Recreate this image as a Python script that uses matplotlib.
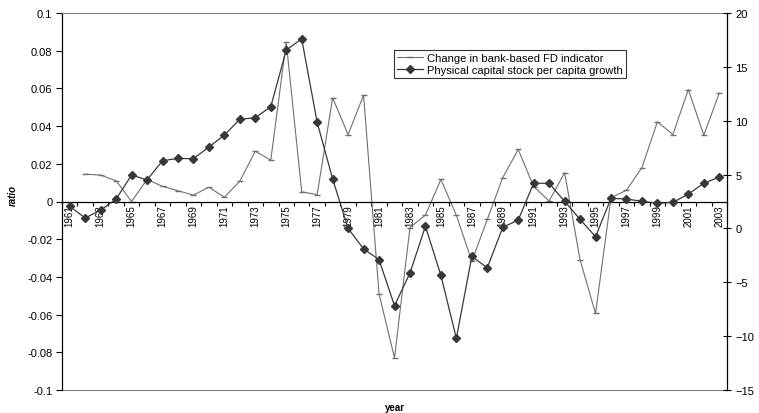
import numpy as np
import matplotlib
matplotlib.use("Agg")
from matplotlib import pyplot as plt

plt.rcParams['font.family'] = ['Liberation Sans', 'DejaVu Sans']

years = list(range(1961, 2004))

# change in bank-based FD indicator (left axis, ratio); no value for 1961
fd_change = [np.nan, 0.0145, 0.014, 0.011, 0.0, 0.0117, 0.008, 0.0057, 0.0034, 0.0076,
             0.0023, 0.0108, 0.0267, 0.0219, 0.0845, 0.0051, 0.0037, 0.055, 0.0355, 0.0564,
             -0.049, -0.083, -0.0138, -0.0072, 0.0117, -0.0073, -0.0317, -0.0095, 0.0127, 0.0276,
             0.0079, 0.0003, 0.0153, -0.031, -0.0594, 0.002, 0.006, 0.018, 0.0423, 0.0355,
             0.0594, 0.0352, 0.0575]

# physical capital stock per capita growth (right axis)
capital_growth = [2.05, 0.97, 1.7, 2.73, 4.96, 4.5, 6.29, 6.5, 6.47, 7.56,
                  8.67, 10.13, 10.28, 11.3, 16.56, 17.6, 9.85, 4.59, 0.0, -1.9,
                  -2.9, -7.17, -4.14, 0.2, -4.36, -10.2, -2.6, -3.65, 0.1, 0.78,
                  4.2, 4.19, 2.52, 0.84, -0.77, 2.8, 2.73, 2.52, 2.33, 2.42,
                  3.19, 4.19, 4.77]

x = np.arange(len(years))

fig = plt.figure(figsize=(7.59, 4.14), dpi=100)
ax = fig.add_axes([62/759, 23/414, (727-62)/759, (391-14)/414])
ax2 = ax.twinx()

l1, = ax.plot(x, fd_change, color='#707070', lw=0.8, marker='_', ms=4, mew=1.0,
              label='Change in bank-based FD indicator')
l2, = ax2.plot(x, capital_growth, color='#383838', lw=0.9, marker='D', ms=4.0,
               mfc='#383838', mec='#383838', label='Physical capital stock per capita growth')

ax.set_xlim(-0.5, len(years) - 0.5)
ax.set_ylim(-0.1, 0.1)
ax2.set_ylim(-15, 20)
ax.set_yticks(np.arange(-0.1, 0.1001, 0.02))
ax.set_yticklabels(['-0.1', '-0.08', '-0.06', '-0.04', '-0.02', '0',
                    '0.02', '0.04', '0.06', '0.08', '0.1'])
ax2.set_yticks(np.arange(-15, 21, 5))

# category axis crossing at zero of the primary axis
ax.spines['bottom'].set_position(('data', 0))
ax.spines['bottom'].set_color('black')
ax.spines['bottom'].set_linewidth(0.9)
ax.spines['top'].set_color('#808080')
ax.spines['top'].set_linewidth(0.8)
ax.spines['right'].set_visible(False)
ax.spines['left'].set_linewidth(0.9)
for s in ['top', 'bottom', 'left']:
    ax2.spines[s].set_visible(False)
ax2.spines['right'].set_linewidth(0.9)
ax.axhline(-0.1, color='#808080', lw=0.8, clip_on=False)

ax.set_xticks(x[::2])
ax.set_xticklabels([str(y) for y in years[::2]], rotation=90, fontsize=7)
ax.set_xticks(np.arange(-0.5, len(years), 1.0), minor=True)
ax.tick_params(axis='x', which='major', length=0, pad=2)
ax.tick_params(axis='x', which='minor', length=3, width=0.8, direction='out')
ax.tick_params(axis='y', labelsize=8, length=4, width=0.8, direction='out', pad=3)
ax2.tick_params(axis='y', labelsize=8, length=6, width=0.8, direction='inout', pad=3)

ax.set_ylabel('ratio', fontsize=7, fontweight='bold', style='italic')
ax.yaxis.set_label_coords(-0.066, 0.52)
fig.text(0.5 * (62 + 727) / 759, 6/414, 'year', ha='center', va='center',
         fontsize=7, fontweight='bold')

leg = fig.legend(handles=[l1, l2], loc='upper left',
                 bbox_to_anchor=(394/759, 1 - 51/414), fontsize=8,
                 frameon=True, fancybox=False, borderpad=0.3, labelspacing=0.12,
                 handlelength=2.3, handletextpad=0.35, borderaxespad=0)
leg.get_frame().set_edgecolor('black')
leg.get_frame().set_linewidth(0.8)

fig.savefig('out.png', dpi=100)
